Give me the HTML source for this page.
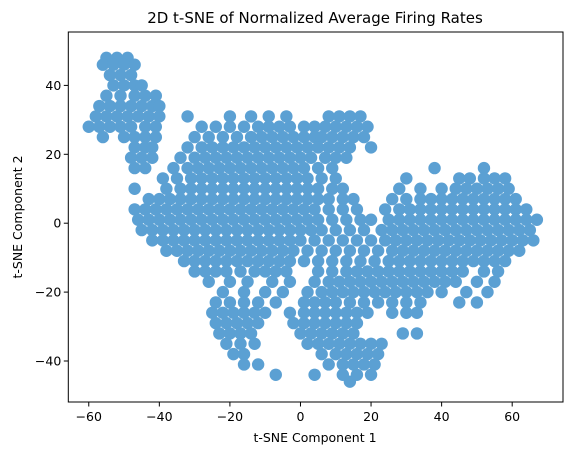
<!DOCTYPE html>
<html><head><meta charset="utf-8"><style>
html,body{margin:0;padding:0;background:#fff;}
svg{display:block;font-family:"DejaVu Sans","Liberation Sans",sans-serif;}
</style></head><body>
<svg id="chart" width="574" height="455" viewBox="0 0 574 455">
<text x="315" y="23" font-size="15" text-anchor="middle" fill="#000">2D t-SNE of Normalized Average Firing Rates</text>
<g id="points"></g>
<rect x="68.3" y="32" width="494.7" height="370" fill="none" stroke="#000" stroke-width="1"/>
<g id="axes"></g>
<text x="315" y="442" font-size="12.5" text-anchor="middle">t-SNE Component 1</text>
<text x="0" y="0" font-size="12.5" text-anchor="middle" transform="translate(22,217) rotate(-90)">t-SNE Component 2</text>
</svg>
<script>
const xTicks=[-60,-40,-20,0,20,40,60];
const yTicks=[-40,-20,0,20,40];
const rowY=[48,46,43,40,37,34,31,28,25,22,19,16,13,10,7,4,1,-2,-5,-8,-11,-14,-17,-20,-23,-26,-29,-32,-35,-38,-41,-44,-46];
const rowX=[
[-55,-52,-49],
[-56,-53,-50,-47],
[-54,-51,-48],
[-53,-50,-47,-45],
[-55,-51,-47,-44,-41],
[-57,-54,-51,-48,-45,-42,-40],
[-58,-55,-52,-49,-46,-43,-40,-32,-20,-14,-9,-4,8,11,14,17],
[-60,-57,-54,-51,-48,-44,-41,-28,-24,-20,-16,-12,-9,-6,-3,1,4,7,10,13,16,19],
[-56,-50,-47,-44,-41,-30,-26,-22,-18,-14,-11,-8,-5,-2,1,4,6,9,12,15,18],
[-47,-44,-42,-32,-28,-25,-22,-19,-16,-13,-10,-7,-4,-1,2,5,8,11,14,20],
[-48,-45,-42,-34,-30,-27,-24,-21,-18,-15,-12,-9,-6,-3,0,3,7,10,13],
[-47,-44,-36,-32,-29,-26,-23,-20,-17,-14,-11,-8,-5,-2,1,5,9,38,52],
[-39,-35,-31,-28,-25,-22,-19,-16,-13,-10,-7,-4,-1,2,6,10,30,45,48,52,55,58],
[-47,-38,-34,-31,-28,-25,-22,-19,-16,-13,-10,-7,-4,-1,2,5,9,12,28,34,40,44,47,50,53,56,59],
[-43,-40,-37,-34,-31,-28,-25,-22,-19,-16,-13,-10,-7,-4,-1,2,5,8,12,15,26,30,34,37,40,43,46,49,52,55,58,61],
[-47,-44,-41,-38,-35,-32,-29,-26,-23,-20,-17,-14,-11,-8,-5,-2,1,4,8,12,16,24,28,31,34,37,40,43,46,49,52,55,58,61,64],
[-46,-43,-40,-37,-34,-31,-28,-25,-22,-19,-16,-13,-10,-7,-4,-1,2,5,9,13,17,20,25,28,31,34,37,40,43,46,49,52,55,58,61,64,67],
[-45,-42,-39,-36,-33,-30,-27,-24,-21,-18,-15,-12,-9,-6,-3,0,3,6,10,14,18,23,26,29,32,35,38,41,44,47,50,53,56,59,62,65],
[-42,-39,-36,-33,-30,-27,-24,-21,-18,-15,-12,-9,-6,-3,0,4,8,12,16,20,24,27,30,33,36,39,42,45,48,51,54,57,60,63,66],
[-38,-35,-32,-29,-26,-23,-20,-17,-14,-11,-8,-5,-2,2,6,10,14,18,22,26,29,32,35,38,41,44,47,50,53,56,59,62],
[-33,-30,-27,-24,-21,-18,-15,-12,-9,-6,-3,1,5,9,13,17,21,25,28,31,34,37,40,43,46,49,52,55,58],
[-30,-27,-24,-21,-17,-13,-10,-7,-4,5,9,13,16,19,22,25,28,31,34,37,40,43,46,52,56],
[-26,-20,-15,-8,-3,4,8,11,14,17,20,23,26,29,32,35,38,41,44,50,55],
[-22,-16,-10,-5,2,6,9,12,15,18,21,24,27,30,33,36,40,47,53],
[-24,-20,-16,-12,-7,1,4,7,10,14,18,22,26,30,34,45,50],
[-25,-22,-19,-16,-13,-10,-3,1,4,7,10,13,16,19,26,30,33],
[-24,-21,-18,-15,-12,-2,1,4,7,10,13,16],
[-23,-20,-17,-14,0,3,6,9,12,15,29,33],
[-21,-17,-13,2,5,8,11,14,17,20,23],
[-19,-16,6,10,13,16,19,22],
[-16,-12,8,12,15,18,21],
[-7,4,12,16,20],
[14]
];
const NS='http://www.w3.org/2000/svg';
const L=68.3,R=563,T=32,B=402;
const X0=-65.8,X1=74.4,Y0=-51.9,Y1=55.5;
function sx(v){return L+(v-X0)/(X1-X0)*(R-L);}
function sy(v){return B-(v-Y0)/(Y1-Y0)*(B-T);}
const pg=document.getElementById('points');
for(let i=0;i<rowY.length;i++){
  for(let j=0;j<rowX[i].length;j++){
    const c=document.createElementNS(NS,'circle');
    c.setAttribute('cx',sx(rowX[i][j]));
    c.setAttribute('cy',sy(rowY[i]));
    c.setAttribute('r',6.2);
    c.setAttribute('fill','#5ba0d3');
    
    
    pg.appendChild(c);
  }
}
const ag=document.getElementById('axes');
xTicks.forEach(t=>{
  const x=sx(t);
  const l=document.createElementNS(NS,'line');
  l.setAttribute('x1',x);l.setAttribute('x2',x);l.setAttribute('y1',B);l.setAttribute('y2',B+4.5);
  l.setAttribute('stroke','#000');
  
  
  ag.appendChild(l);
  const s=document.createElementNS(NS,'text');
  s.setAttribute('x',x);s.setAttribute('y',B+19);s.setAttribute('font-size','12.5');s.setAttribute('text-anchor','middle');
  s.textContent=(t<0?'\u2212':'')+Math.abs(t);
  
  
  ag.appendChild(s);
});
yTicks.forEach(t=>{
  const y=sy(t);
  const l=document.createElementNS(NS,'line');
  l.setAttribute('x1',L-4.5);l.setAttribute('x2',L);l.setAttribute('y1',y);l.setAttribute('y2',y);
  l.setAttribute('stroke','#000');
  
  
  ag.appendChild(l);
  const s=document.createElementNS(NS,'text');
  s.setAttribute('x',L-7);s.setAttribute('y',y+4.5);s.setAttribute('font-size','12.5');s.setAttribute('text-anchor','end');
  s.textContent=(t<0?'\u2212':'')+Math.abs(t);
  
  
  ag.appendChild(s);
});
</script>
</body></html>
